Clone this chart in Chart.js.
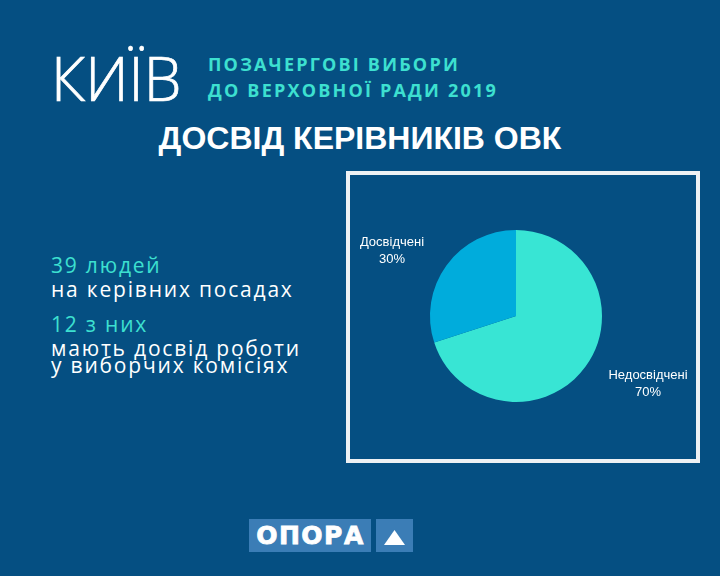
<!DOCTYPE html>
<html>
<head>
<meta charset="utf-8">
<script src="https://cdn.jsdelivr.net/npm/chart.js@4"></script>
<style>
  body { margin:0; width:720px; height:576px; background:#054f82; overflow:hidden; position:relative; font-family:"Open Sans", sans-serif; }
  .abs { position:absolute; white-space:nowrap; }
  #city { left:51px; top:38px; font-size:60px; font-weight:300; color:#fff; line-height:80px; -webkit-text-stroke:0.7px #fff; }
  .sub { left:208px; font-size:18px; font-weight:bold; color:#3de0d0; letter-spacing:2.2px; line-height:24px; }
  #title { left:0; width:720px; text-align:center; top:118px; font-family:"Liberation Sans", Arial, sans-serif; font-weight:bold; font-size:32px; color:#fff; line-height:40px; }
  .big { left:51px; font-size:21px; letter-spacing:1.8px; line-height:22px; }
  .teal { color:#3de0d0; }
  .white { color:#fff; }
  #frame { left:346px; top:171px; width:346px; height:284px; border:4px solid #eef1f4; }
  #wrap { position:absolute; left:336px; top:176px; width:360px; height:280px; }
  .logo { top:519px; height:33px; background:#3b7db6; color:#fff; font-family:"DejaVu Sans", sans-serif; font-weight:bold; font-size:25px; letter-spacing:1.5px; line-height:34px; text-align:center; -webkit-text-stroke:0.8px #fff; }
  #tri { position:absolute; left:384px; top:530px; width:21px; height:15px; background:#fff; clip-path:polygon(50% 0, 100% 100%, 0 100%); }
</style>
</head>
<body>
<div class="abs" id="city">КИЇВ</div>
<div class="abs sub" style="top:52px">ПОЗАЧЕРГОВІ ВИБОРИ</div>
<div class="abs sub" style="top:78px">ДО ВЕРХОВНОЇ РАДИ 2019</div>
<div class="abs" id="title">ДОСВІД КЕРІВНИКІВ ОВК</div>

<div class="abs big teal" style="top:254px">39 людей</div>
<div class="abs big white" style="top:278px">на керівних посадах</div>
<div class="abs big teal" style="top:313px">12 з них</div>
<div class="abs big white" style="top:337px">мають досвід роботи</div>
<div class="abs big white" style="top:354px">у виборчих комісіях</div>

<div class="abs" id="frame"></div>
<div id="wrap"><canvas id="myChart"></canvas></div>

<div class="abs logo" style="left:249px;width:122px;text-indent:1px">ОПОРА</div>
<div class="abs logo" style="left:376px;width:37px"></div>
<div id="tri"></div>

<script>
const labels = ['Недосвідчені', 'Досвідчені'];
const values = [70, 30];
const colors = ['#38e5d4', '#00acdc'];

// labels outside the slices, with percentages
const outLabels = {
  id: 'outLabels',
  afterDatasetsDraw(chart) {
    const ctx = chart.ctx;
    const meta = chart.getDatasetMeta(0);
    const total = values.reduce((a, b) => a + b, 0);
    ctx.save();
    ctx.fillStyle = '#ffffff';
    ctx.font = '13px "Liberation Sans", Arial, sans-serif';
    ctx.textAlign = 'center';
    ctx.textBaseline = 'middle';
    meta.data.forEach((arc, i) => {
      const p = arc.getProps(['x', 'y', 'startAngle', 'endAngle', 'outerRadius']);
      const mid = (p.startAngle + p.endAngle) / 2;
      const x = p.x + 4 + Math.cos(mid) * p.outerRadius * 1.84;
      const y = p.y + 1 + Math.sin(mid) * p.outerRadius * 1.31;
      ctx.fillText(labels[i], x, y - 8);
      ctx.fillText(Math.round(values[i] / total * 100) + '%', x, y + 9);
    });
    ctx.restore();
  }
};

new Chart(document.getElementById('myChart'), {
  type: 'pie',
  data: {
    labels: labels,
    datasets: [{
      data: values,
      backgroundColor: colors,
      borderWidth: 0,
      radius: 86
    }]
  },
  options: {
    responsive: true,
    maintainAspectRatio: false,
    animation: false,
    plugins: {
      legend: { display: false },
      tooltip: { enabled: false }
    }
  },
  plugins: [outLabels]
});
</script>
</body>
</html>
